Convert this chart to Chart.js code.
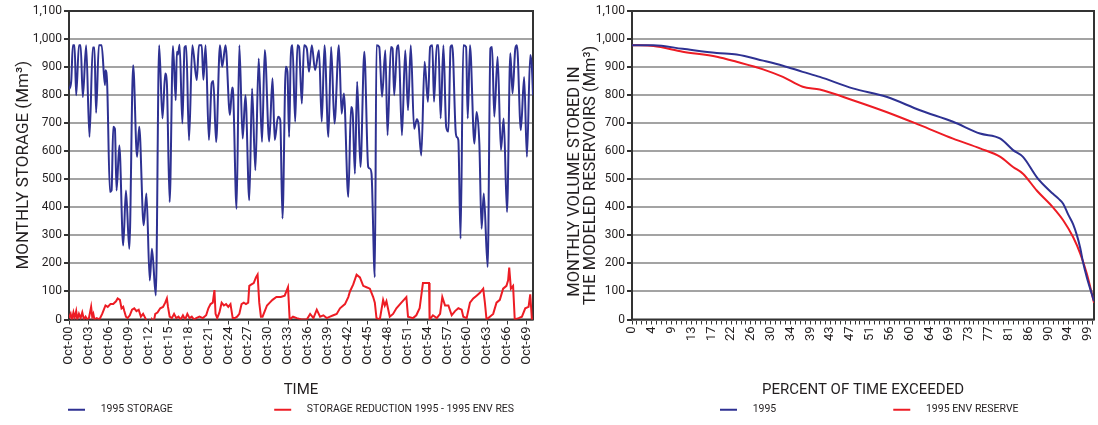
<!DOCTYPE html>
<html>
<head>
<meta charset="utf-8">
<script src="https://cdn.jsdelivr.net/npm/chart.js@4.4.0/dist/chart.umd.min.js"></script>
<style>
	html, body { margin: 0; padding: 0; background: #fff; }
	#wrap { position: relative; width: 1098px; height: 425px; }
	#chart-storage { position: absolute; left: 0; top: 0; }
	#chart-exceed { position: absolute; left: 548px; top: 0; }
</style>
</head>
<body>
<div id="wrap">
	<canvas id="chart-storage" width="548" height="425"></canvas>
	<canvas id="chart-exceed" width="550" height="425"></canvas>
</div>
<script>
var FONT = "Roboto, 'Liberation Sans', sans-serif";
var INK = "#231f20";
var BLUE = "#2e3192";
var RED = "#ed1c24";

// Month index 0 = Oct-00, one label every 3 years
var timeLabels = ["Oct-00", "Oct-03", "Oct-06", "Oct-09", "Oct-12", "Oct-15", "Oct-18", "Oct-21",
	"Oct-24", "Oct-27", "Oct-30", "Oct-33", "Oct-36", "Oct-39", "Oct-42", "Oct-45",
	"Oct-48", "Oct-51", "Oct-54", "Oct-57", "Oct-60", "Oct-63", "Oct-66", "Oct-69"];

// 1995 storage, turning points of the monthly series (Mm3)
var storageMonth = [0, 4, 7, 10, 13, 18, 21, 25, 31, 37, 43, 46, 49, 54, 59, 65, 66, 69, 74, 77,
	80, 83, 86, 91, 98, 103, 109, 116, 123, 127, 135, 140, 146, 150, 157, 163, 169, 174, 177, 182,
	188, 193, 195, 197, 200, 205, 209, 212, 217, 223, 231, 235, 240, 243, 247, 253, 258, 261, 266, 273,
	277, 283, 291, 295, 297, 303, 308, 314, 319, 326, 331, 337, 343, 349, 354, 362, 368, 372, 378, 382,
	386, 392, 395, 398, 401, 404, 409, 413, 416, 421, 425, 430, 434, 439, 445, 452, 457, 462, 469, 474,
	480, 488, 493, 497, 505, 510, 513, 517, 521, 527, 534, 541, 544, 547, 553, 556, 561, 566, 572, 576,
	582, 585, 588, 593, 596, 602, 608, 613, 618, 624, 629, 632, 637, 643, 649, 653, 657, 660, 665, 668,
	672, 677, 682, 686, 690, 693, 699, 701, 704, 708, 713, 718, 721, 725, 733, 737, 742, 746, 750, 757,
	762, 765, 769, 775, 781, 786, 792, 798, 802, 807, 810, 817, 823, 828, 834, 837, 839];
var storageValue = [820, 850, 978, 978, 800, 978, 978, 793, 978, 651, 970, 970, 737, 978, 978, 836, 889, 840, 455, 460,
	687, 680, 460, 620, 264, 460, 252, 907, 580, 687, 336, 449, 139, 252, 86, 978, 717, 877, 840, 419,
	975, 782, 955, 945, 980, 699, 970, 975, 639, 978, 854, 978, 978, 855, 978, 640, 842, 850, 633, 978,
	901, 978, 729, 827, 800, 395, 978, 645, 800, 425, 824, 532, 931, 633, 961, 635, 860, 640, 723, 711,
	360, 901, 883, 651, 937, 978, 705, 978, 972, 770, 978, 966, 883, 978, 889, 960, 705, 978, 651, 972,
	699, 978, 734, 806, 437, 758, 734, 520, 848, 544, 955, 544, 538, 520, 151, 978, 972, 794, 960, 657,
	972, 966, 800, 966, 978, 657, 960, 746, 978, 680, 714, 697, 585, 919, 776, 972, 978, 776, 978, 978,
	717, 978, 687, 670, 972, 978, 675, 651, 640, 288, 978, 972, 717, 978, 627, 740, 627, 324, 449, 187,
	967, 972, 723, 937, 604, 717, 383, 949, 806, 966, 978, 675, 865, 580, 943, 900, 800];

// Storage reduction 1995 - 1995 env reserve (Mm3)
var reductionMonth = [0, 3, 5, 8, 10, 13, 15, 18, 21, 24, 27, 30, 33, 36, 40, 42, 44, 46, 50, 55,
	60, 63, 66, 70, 75, 80, 85, 88, 92, 95, 98, 100, 103, 106, 110, 114, 118, 122, 126, 130,
	134, 138, 142, 145, 148, 150, 153, 156, 160, 165, 170, 174, 177, 179, 182, 186, 190, 194, 198, 202,
	206, 210, 214, 218, 222, 226, 230, 236, 242, 248, 252, 256, 260, 263, 265, 268, 272, 276, 280, 284,
	288, 292, 296, 300, 304, 308, 312, 316, 320, 324, 326, 330, 334, 338, 341, 344, 347, 350, 354, 358,
	363, 368, 375, 383, 390, 396, 399, 405, 412, 420, 430, 436, 442, 448, 454, 460, 466, 472, 478, 484,
	490, 499, 505, 508, 514, 520, 526, 532, 538, 544, 550, 553, 556, 562, 568, 571, 574, 580, 586, 592,
	601, 610, 613, 622, 628, 634, 640, 646, 651, 652, 658, 665, 671, 675, 680, 686, 692, 698, 704, 710,
	713, 719, 725, 731, 737, 743, 749, 752, 755, 761, 767, 773, 779, 785, 791, 794, 796, 799, 803, 806,
	813, 819, 825, 831, 834, 837, 839];
var reductionValue = [5, 20, 0, 25, 5, 30, 0, 20, 5, 25, 0, 10, 0, 5, 45, 10, 20, 0, 5, 0,
	20, 35, 50, 45, 55, 55, 65, 75, 70, 40, 45, 30, 10, 5, 15, 35, 40, 30, 35, 10,
	20, 5, -15, -5, -20, 0, -10, 20, 25, 40, 45, 60, 75, 45, 10, 5, 20, 5, 10, 0,
	15, 0, 20, 5, 10, 0, 5, 10, 5, 15, 40, 55, 60, 105, 20, 5, 25, 60, 50, 55,
	45, 55, 5, 5, 10, 20, 55, 60, 55, 60, 120, 125, 130, 150, 160, 60, 10, 10, 30, 50,
	60, 70, 80, 80, 85, 115, 0, 10, 5, 0, 0, 20, 5, 35, 10, 15, 5, 10, 15, 20,
	40, 55, 80, 100, 125, 160, 150, 120, 115, 110, 80, 60, 5, 0, 70, 50, 65, 10, 20, 40,
	60, 80, 10, 5, 15, 40, 130, 130, 130, 0, 15, 5, 20, 80, 50, 50, 15, 30, 40, 35,
	10, 5, 60, 75, 85, 95, 110, 60, 0, 10, 20, 60, 70, 110, 120, 140, 185, 110, 120, 0,
	5, 10, 40, 45, 90, 0, 0];

// Duration curves: rank of the month (0..839) against stored volume
var exceedLabels = ["0", "4", "9", "13", "17", "22", "26", "30", "34", "39", "43", "47",
	"51", "56", "60", "64", "69", "73", "77", "81", "86", "90", "94", "99"];
var exceedRank1995 = [0, 39, 92, 154, 190, 238, 274, 310, 341, 401, 462, 523, 583, 632, 669, 692, 710,
	735, 750, 764, 775, 783, 792, 801, 808, 814, 819, 826, 832, 839];
var exceed1995 = [978, 978, 965, 950, 945, 923, 905, 883, 865, 824, 794, 746, 705, 663, 645, 604, 580,
	508, 475, 449, 430, 413, 375, 340, 300, 255, 205, 150, 110, 65];
var exceedRankEnv = [0, 39, 92, 154, 190, 238, 274, 310, 341, 401, 462, 523, 583, 632, 669, 692, 710,
	735, 764, 783, 801, 814, 826, 839];
var exceedEnv = [978, 975, 955, 937, 919, 892, 865, 830, 820, 782, 740, 693, 645, 610, 580, 544, 520,
	460, 401, 354, 294, 235, 163, 60];

function toPoints(xs, ys) {
	return xs.map(function(x, i) {
		return { x: x, y: ys[i] };
	});
}

// Box around the plot area
var plotFrame = {
	id: "plotFrame",
	beforeDatasetsDraw: function(chart) {
		var a = chart.chartArea;
		var ctx = chart.ctx;
		ctx.save();
		ctx.strokeStyle = "#333";
		ctx.lineWidth = 2;
		ctx.strokeRect(a.left, a.top, a.right - a.left, a.bottom - a.top);
		ctx.restore();
	}
};

// Start the legend row relative to the plot area instead of the canvas
var legendPlace = {
	id: "legendPlace",
	afterLayout: function(chart, args, opts) {
		var legend = chart.legend;
		legend.left = chart.chartArea.left + opts.x - legend.options.labels.padding;
	}
};

function spacedLabels(trailing) {
	return function(chart) {
		var items = Chart.defaults.plugins.legend.labels.generateLabels(chart);
		items.forEach(function(item, i) {
			item.text = "    " + item.text + " ".repeat(trailing[i] || 0);
		});
		return items;
	};
}

function yAxis(title, width, titlePad, titleSize) {
	return {
		min: 0,
		max: 1100,
		ticks: {
			stepSize: 100,
			padding: 2,
			color: INK,
			font: { family: FONT, size: 12 },
			callback: function(v) { return v.toLocaleString("en-US"); }
		},
		grid: { color: "#a3a3a3", lineWidth: 2, tickLength: 5, tickColor: "#333" },
		border: { display: false },
		title: {
			display: true,
			text: title,
			color: INK,
			font: { family: FONT, size: titleSize, lineHeight: 1 },
			padding: { top: titlePad, bottom: 0 }
		},
		afterFit: function(scale) { scale.width = width; }
	};
}

function xAxis(title, labels, minorStep) {
	return {
		type: "linear",
		min: 0,
		max: 839,
		afterBuildTicks: function(scale) {
			var ticks = [];
			for (var v = 0; v < 839; v += minorStep) {
				ticks.push({ value: v });
			}
			scale.ticks = ticks;
		},
		ticks: {
			autoSkip: false,
			minRotation: 90,
			maxRotation: 90,
			padding: 2,
			color: INK,
			font: { family: FONT, size: 13 },
			callback: function(v) {
				return v % 36 === 0 ? labels[v / 36] : "";
			}
		},
		grid: { drawOnChartArea: false, tickLength: 5, tickColor: "#333" },
		border: { display: false },
		title: { display: true, text: title, color: INK, font: { family: FONT, size: 15 }, padding: 0 },
		afterFit: function(scale) {
			scale.height = 80;
			scale.paddingLeft = 0;
			scale.paddingRight = 0;
		}
	};
}

function legendOptions(trailing) {
	return {
		position: "bottom",
		align: "start",
		labels: {
			usePointStyle: true,
			pointStyle: "line",
			pointStyleWidth: 17,
			padding: 5,
			color: INK,
			font: { family: FONT, size: 10.5 },
			generateLabels: spacedLabels(trailing)
		}
	};
}

new Chart(document.getElementById("chart-storage"), {
	type: "line",
	data: {
		datasets: [
			{
				label: "1995 STORAGE",
				data: toPoints(storageMonth, storageValue),
				borderColor: BLUE,
				backgroundColor: BLUE,
				borderWidth: 2,
				pointRadius: 0,
				cubicInterpolationMode: "monotone"
			},
			{
				label: "STORAGE REDUCTION 1995 - 1995 ENV RES",
				data: toPoints(reductionMonth, reductionValue),
				borderColor: RED,
				backgroundColor: RED,
				borderWidth: 2,
				pointRadius: 0,
				tension: 0
			}
		]
	},
	options: {
		responsive: false,
		animation: false,
		layout: { padding: { top: 11, right: 15, left: 0, bottom: 0 } },
		scales: {
			x: xAxis("TIME", timeLabels, 36),
			y: yAxis("MONTHLY STORAGE (Mm\u00b3)", 69, 15.5, 17)
		},
		plugins: {
			legend: legendOptions([37, 0]),
			legendPlace: { x: -1 },
			tooltip: { enabled: false }
		}
	},
	plugins: [plotFrame, legendPlace]
});

// the two title lines sit a little below the plot's middle
new Chart(document.getElementById("chart-exceed"), {
	type: "line",
	data: {
		datasets: [
			{
				label: "1995",
				data: toPoints(exceedRank1995, exceed1995),
				borderColor: BLUE,
				backgroundColor: BLUE,
				borderWidth: 2,
				pointRadius: 0,
				cubicInterpolationMode: "monotone"
			},
			{
				label: "1995 ENV RESERVE",
				data: toPoints(exceedRankEnv, exceedEnv),
				borderColor: RED,
				backgroundColor: RED,
				borderWidth: 2,
				pointRadius: 0,
				cubicInterpolationMode: "monotone"
			}
		]
	},
	options: {
		responsive: false,
		animation: false,
		layout: { padding: { top: 11, right: 4, left: 0, bottom: 0 } },
		scales: {
			x: xAxis("PERCENT OF TIME EXCEEDED", exceedLabels, 9),
			y: yAxis(["MONTHLY VOLUME STORED IN        ", "THE MODELED RESERVOIRS (Mm\u00b3)     "], 84, 18.5, 16.5)
		},
		plugins: {
			legend: legendOptions([43, 0]),
			legendPlace: { x: 88 },
			tooltip: { enabled: false }
		}
	},
	plugins: [plotFrame, legendPlace]
});
</script>
</body>
</html>
